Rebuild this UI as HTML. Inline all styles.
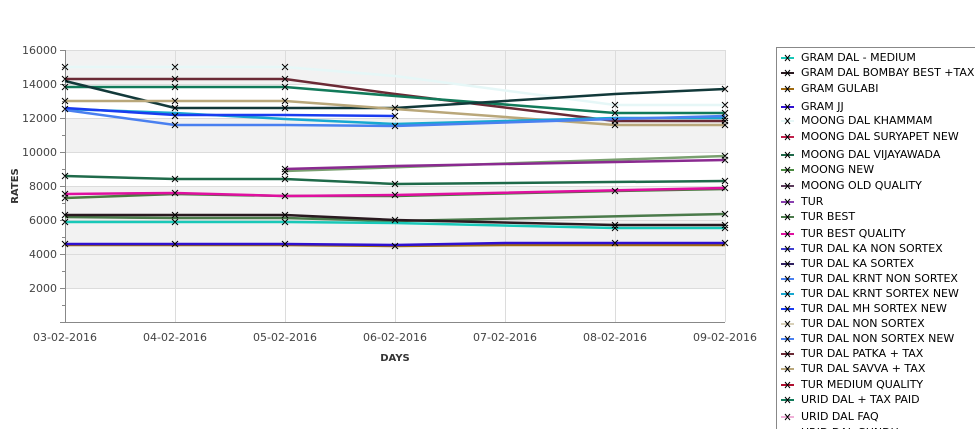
<!DOCTYPE html>
<html><head><meta charset="utf-8"><style>
body{margin:0;background:#fff;}
svg{display:block;font-family:"DejaVu Sans","Liberation Sans",sans-serif;}
</style></head><body>
<svg width="975" height="429" xmlns="http://www.w3.org/2000/svg">
<rect width="975" height="429" fill="#fff"/>
<!-- bands -->
<rect x="65" y="50" width="660" height="34" fill="#f2f2f2"/>
<rect x="65" y="118" width="660" height="34" fill="#f2f2f2"/>
<rect x="65" y="186" width="660" height="102" fill="#f2f2f2"/>
<!-- grid -->
<g stroke="#dcdcdc" stroke-width="1">
<line x1="65" y1="50.5" x2="725" y2="50.5"/>
<line x1="65" y1="84.5" x2="725" y2="84.5"/>
<line x1="65" y1="118.5" x2="725" y2="118.5"/>
<line x1="65" y1="152.5" x2="725" y2="152.5"/>
<line x1="65" y1="186.5" x2="725" y2="186.5"/>
<line x1="65" y1="220.5" x2="725" y2="220.5"/>
<line x1="65" y1="254.5" x2="725" y2="254.5"/>
<line x1="65" y1="288.5" x2="725" y2="288.5"/>
<line x1="175.5" y1="50" x2="175.5" y2="322"/>
<line x1="285.5" y1="50" x2="285.5" y2="322"/>
<line x1="395.5" y1="50" x2="395.5" y2="322"/>
<line x1="505.5" y1="50" x2="505.5" y2="322"/>
<line x1="615.5" y1="50" x2="615.5" y2="322"/>
<line x1="725.5" y1="50" x2="725.5" y2="322"/>
</g>
<!-- axes -->
<g stroke="#888" stroke-width="1">
<line x1="65.5" y1="50" x2="65.5" y2="322"/>
<line x1="60" y1="322.5" x2="725" y2="322.5"/>
<line x1="60" y1="50.5" x2="65" y2="50.5"/><line x1="60" y1="84.5" x2="65" y2="84.5"/>
<line x1="60" y1="118.5" x2="65" y2="118.5"/><line x1="60" y1="152.5" x2="65" y2="152.5"/>
<line x1="60" y1="186.5" x2="65" y2="186.5"/><line x1="60" y1="220.5" x2="65" y2="220.5"/>
<line x1="60" y1="254.5" x2="65" y2="254.5"/><line x1="60" y1="288.5" x2="65" y2="288.5"/>
<line x1="62" y1="67.5" x2="65" y2="67.5"/><line x1="62" y1="101.5" x2="65" y2="101.5"/>
<line x1="62" y1="135.5" x2="65" y2="135.5"/><line x1="62" y1="169.5" x2="65" y2="169.5"/>
<line x1="62" y1="203.5" x2="65" y2="203.5"/><line x1="62" y1="237.5" x2="65" y2="237.5"/>
<line x1="62" y1="271.5" x2="65" y2="271.5"/><line x1="62" y1="305.5" x2="65" y2="305.5"/>
</g>
<g font-size="11" fill="#444" text-anchor="end">
<text x="57" y="54">16000</text><text x="57" y="88">14000</text><text x="57" y="122">12000</text>
<text x="57" y="156">10000</text><text x="57" y="190">8000</text><text x="57" y="224">6000</text>
<text x="57" y="258">4000</text><text x="57" y="292">2000</text>
</g>
<g font-size="11" fill="#444" text-anchor="middle">
<text x="65" y="341">03-02-2016</text><text x="175" y="341">04-02-2016</text><text x="285" y="341">05-02-2016</text>
<text x="395" y="341">06-02-2016</text><text x="505" y="341">07-02-2016</text><text x="615" y="341">08-02-2016</text>
<text x="725" y="341">09-02-2016</text>
</g>
<text x="395" y="361" font-size="10" font-weight="bold" fill="#333" text-anchor="middle">DAYS</text>
<text transform="translate(18,186) rotate(-90)" font-size="10" font-weight="bold" fill="#333" text-anchor="middle">RATES</text>
<!-- series -->
<g fill="none" stroke-width="2.5">
<polyline stroke="#e6f7f7" points="65,67 175,67 285,67 395,76 615,105 725,105"/>
<polyline stroke="#6b2a35" points="65,79 175,79 285,79 395,94 615,121 725,121"/>
<polyline stroke="#127a5a" points="65,87 175,87 285,87 395,96 615,113 725,113"/>
<polyline stroke="#12393a" points="65,81 175,108 285,108 395,108 615,94 725,89"/>
<polyline stroke="#b9a77a" points="65,101 175,101 285,101 395,109 615,125 725,125"/>
<polyline stroke="#17a8d0" points="65,109 175,113 285,119 395,124 615,118 725,118"/>
<polyline stroke="#4a80f0" points="65,110 175,125 285,125 395,126 615,119 725,116"/>
<polyline stroke="#1a3cf0" points="65,108 175,115 285,115 395,116"/>
<polyline stroke="#7aa070" points="285,171 725,156"/>
<polyline stroke="#8a2a90" points="285,169 395,166 725,160"/>
<polyline stroke="#1f6a4a" points="65,176 175,179 285,179 395,184 725,181"/>
<polyline stroke="#4a7a40" points="65,198 175,194 285,196 395,196 615,191 725,189"/>
<polyline stroke="#e010a0" points="65,194 175,193 285,196 395,195 725,188"/>
<polyline stroke="#4a7a4a" points="65,217 175,218 285,218 395,221 725,214"/>
<polyline stroke="#2a1a20" points="65,215 175,215 285,215 395,220 615,225 725,225"/>
<polyline stroke="#18c8b8" points="65,222 175,222 285,222 395,223 615,228 725,228"/>
<polyline stroke="#a06a10" points="65,245 285,245 395,246 505,245 725,245"/>
<polyline stroke="#3010d0" points="65,244 285,244 395,245 505,243 725,243"/>
</g>
<!-- markers -->
<g stroke="#000" stroke-width="1">
<path d="M62,64l6,6m0-6l-6,6 M172,64l6,6m0-6l-6,6 M282,64l6,6m0-6l-6,6 M612,102l6,6m0-6l-6,6 M722,102l6,6m0-6l-6,6
M62,76l6,6m0-6l-6,6 M172,76l6,6m0-6l-6,6 M282,76l6,6m0-6l-6,6 M62,84l6,6m0-6l-6,6 M172,84l6,6m0-6l-6,6 M282,84l6,6m0-6l-6,6
M62,98l6,6m0-6l-6,6 M172,98l6,6m0-6l-6,6 M282,98l6,6m0-6l-6,6 M62,106l6,6m0-6l-6,6 M172,105l6,6m0-6l-6,6 M282,105l6,6m0-6l-6,6 M392,105l6,6m0-6l-6,6
M172,113l6,6m0-6l-6,6 M392,113l6,6m0-6l-6,6 M172,122l6,6m0-6l-6,6 M392,123l6,6m0-6l-6,6
M612,110l6,6m0-6l-6,6 M612,118l6,6m0-6l-6,6 M612,122l6,6m0-6l-6,6 M722,86l6,6m0-6l-6,6 M722,110l6,6m0-6l-6,6 M722,115l6,6m0-6l-6,6 M722,118l6,6m0-6l-6,6 M722,122l6,6m0-6l-6,6
M282,166l6,6m0-6l-6,6 M282,169l6,6m0-6l-6,6 M722,153l6,6m0-6l-6,6 M722,157l6,6m0-6l-6,6
M62,173l6,6m0-6l-6,6 M172,176l6,6m0-6l-6,6 M282,176l6,6m0-6l-6,6 M392,181l6,6m0-6l-6,6 M722,178l6,6m0-6l-6,6
M62,191l6,6m0-6l-6,6 M62,195l6,6m0-6l-6,6 M172,190l6,6m0-6l-6,6 M282,193l6,6m0-6l-6,6 M392,192l6,6m0-6l-6,6 M612,188l6,6m0-6l-6,6 M722,185l6,6m0-6l-6,6
M62,212l6,6m0-6l-6,6 M62,219l6,6m0-6l-6,6 M172,212l6,6m0-6l-6,6 M172,219l6,6m0-6l-6,6 M282,212l6,6m0-6l-6,6 M282,219l6,6m0-6l-6,6 M392,217l6,6m0-6l-6,6
M612,222l6,6m0-6l-6,6 M612,225l6,6m0-6l-6,6 M722,211l6,6m0-6l-6,6 M722,222l6,6m0-6l-6,6 M722,225l6,6m0-6l-6,6
M62,241l6,6m0-6l-6,6 M172,241l6,6m0-6l-6,6 M282,241l6,6m0-6l-6,6 M392,243l6,6m0-6l-6,6 M612,240l6,6m0-6l-6,6 M722,240l6,6m0-6l-6,6"/>
</g>
<!-- legend -->
<rect x="776.5" y="47.5" width="210" height="400" fill="#fff" stroke="#888"/>
<g font-size="11" fill="#000">
<text x="801" y="61">GRAM DAL - MEDIUM</text>
<text x="801" y="76">GRAM DAL BOMBAY BEST +TAX</text>
<text x="801" y="92">GRAM GULABI</text>
<text x="801" y="110">GRAM JJ</text>
<text x="801" y="124">MOONG DAL KHAMMAM</text>
<text x="801" y="140">MOONG DAL SURYAPET NEW</text>
<text x="801" y="158">MOONG DAL VIJAYAWADA</text>
<text x="801" y="173">MOONG NEW</text>
<text x="801" y="189">MOONG OLD QUALITY</text>
<text x="801" y="205">TUR</text>
<text x="801" y="220">TUR BEST</text>
<text x="801" y="237">TUR BEST QUALITY</text>
<text x="801" y="252">TUR DAL KA NON SORTEX</text>
<text x="801" y="267">TUR DAL KA SORTEX</text>
<text x="801" y="282">TUR DAL KRNT NON SORTEX</text>
<text x="801" y="297">TUR DAL KRNT SORTEX NEW</text>
<text x="801" y="312">TUR DAL MH SORTEX NEW</text>
<text x="801" y="327">TUR DAL NON SORTEX</text>
<text x="801" y="342">TUR DAL NON SORTEX NEW</text>
<text x="801" y="357">TUR DAL PATKA + TAX</text>
<text x="801" y="372">TUR DAL SAVVA + TAX</text>
<text x="801" y="388">TUR MEDIUM QUALITY</text>
<text x="801" y="403">URID DAL + TAX PAID</text>
<text x="801" y="420">URID DAL FAQ</text>
<text x="801" y="436">URID DAL GUNDU</text>
</g>
<g stroke-width="2">
<line x1="781" x2="794" y1="58" y2="58" stroke="#18c8b8"/>
<line x1="781" x2="794" y1="73" y2="73" stroke="#2a1a20"/>
<line x1="781" x2="794" y1="89" y2="89" stroke="#a06a10"/>
<line x1="781" x2="794" y1="107" y2="107" stroke="#3010d0"/>
<line x1="781" x2="794" y1="121" y2="121" stroke="#e6f7f7"/>
<line x1="781" x2="794" y1="137" y2="137" stroke="#c0204a"/>
<line x1="781" x2="794" y1="155" y2="155" stroke="#1f6a4a"/>
<line x1="781" x2="794" y1="170" y2="170" stroke="#4a8a40"/>
<line x1="781" x2="794" y1="186" y2="186" stroke="#5a3a5a"/>
<line x1="781" x2="794" y1="202" y2="202" stroke="#8a40b0"/>
<line x1="781" x2="794" y1="217" y2="217" stroke="#4a7a4a"/>
<line x1="781" x2="794" y1="234" y2="234" stroke="#e010a0"/>
<line x1="781" x2="794" y1="249" y2="249" stroke="#4040d0"/>
<line x1="781" x2="794" y1="264" y2="264" stroke="#302060"/>
<line x1="781" x2="794" y1="279" y2="279" stroke="#4a80f0"/>
<line x1="781" x2="794" y1="294" y2="294" stroke="#17a8d0"/>
<line x1="781" x2="794" y1="309" y2="309" stroke="#1a3cf0"/>
<line x1="781" x2="794" y1="324" y2="324" stroke="#d8d0b8"/>
<line x1="781" x2="794" y1="339" y2="339" stroke="#4a80f0"/>
<line x1="781" x2="794" y1="354" y2="354" stroke="#6b2a35"/>
<line x1="781" x2="794" y1="369" y2="369" stroke="#b9a77a"/>
<line x1="781" x2="794" y1="385" y2="385" stroke="#b01030"/>
<line x1="781" x2="794" y1="400" y2="400" stroke="#127a5a"/>
<line x1="781" x2="794" y1="417" y2="417" stroke="#f0b0d8"/>
</g>
<g stroke="#000" stroke-width="1">
<path d="M785,55l5,6m0-6l-5,6 M785,70l5,6m0-6l-5,6 M785,86l5,6m0-6l-5,6 M785,104l5,6m0-6l-5,6 M785,118l5,6m0-6l-5,6 M785,134l5,6m0-6l-5,6 M785,152l5,6m0-6l-5,6 M785,167l5,6m0-6l-5,6 M785,183l5,6m0-6l-5,6 M785,199l5,6m0-6l-5,6 M785,214l5,6m0-6l-5,6 M785,231l5,6m0-6l-5,6 M785,246l5,6m0-6l-5,6 M785,261l5,6m0-6l-5,6 M785,276l5,6m0-6l-5,6 M785,291l5,6m0-6l-5,6 M785,306l5,6m0-6l-5,6 M785,321l5,6m0-6l-5,6 M785,336l5,6m0-6l-5,6 M785,351l5,6m0-6l-5,6 M785,366l5,6m0-6l-5,6 M785,382l5,6m0-6l-5,6 M785,397l5,6m0-6l-5,6 M785,414l5,6m0-6l-5,6"/>
</g>
</svg>
</body></html>
